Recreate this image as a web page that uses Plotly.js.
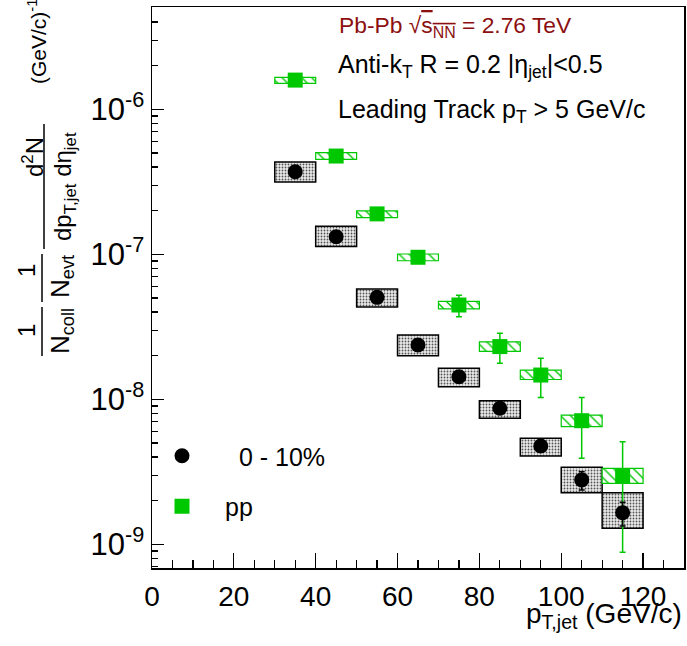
<!DOCTYPE html>
<html><head><meta charset="utf-8">
<script src="https://cdn.plot.ly/plotly-3.0.1.min.js"></script>
<style>body{margin:0;padding:0;background:#fff} #chart{width:687px;height:646px}</style>
</head><body><div id="chart"></div>
<script>
// ---- data ----
var binCenters = [35, 45, 55, 65, 75, 85, 95, 105, 115];
var binWidth = 10;

var ppY      = [1.59e-6, 4.76e-7, 1.90e-7, 9.54e-8, 4.47e-8, 2.31e-8, 1.47e-8, 7.12e-9, 2.97e-9];
var ppSysLo  = [1.51e-6, 4.52e-7, 1.79e-7, 9.03e-8, 4.20e-8, 2.14e-8, 1.37e-8, 6.47e-9, 2.63e-9];
var ppSysHi  = [1.66e-6, 5.02e-7, 1.99e-7, 1.005e-7, 4.74e-8, 2.49e-8, 1.59e-8, 7.79e-9, 3.34e-9];
var ppStatLo = [1.59e-6, 4.76e-7, 1.90e-7, 9.54e-8, 3.71e-8, 1.77e-8, 1.03e-8, 3.92e-9, 8.8e-10];
var ppStatHi = [1.59e-6, 4.76e-7, 1.90e-7, 9.54e-8, 5.21e-8, 2.85e-8, 1.92e-8, 1.03e-8, 5.10e-9];

var pbY      = [3.71e-7, 1.32e-7, 5.05e-8, 2.37e-8, 1.43e-8, 8.67e-9, 4.76e-9, 2.78e-9, 1.65e-9];
var pbSysLo  = [3.15e-7, 1.13e-7, 4.33e-8, 2.00e-8, 1.22e-8, 7.40e-9, 4.06e-9, 2.27e-9, 1.29e-9];
var pbSysHi  = [4.33e-7, 1.56e-7, 5.76e-8, 2.78e-8, 1.64e-8, 9.78e-9, 5.38e-9, 3.40e-9, 2.27e-9];
var pbStatLo = [3.71e-7, 1.32e-7, 5.05e-8, 2.37e-8, 1.43e-8, 8.67e-9, 4.76e-9, 2.37e-9, 1.34e-9];
var pbStatHi = [3.71e-7, 1.32e-7, 5.05e-8, 2.37e-8, 1.43e-8, 8.67e-9, 4.76e-9, 3.17e-9, 1.95e-9];

var seriesNames = ['0 - 10%', 'pp'];
var yTickVals = [1e-9, 1e-8, 1e-7, 1e-6];
var yTickText = ['10<sup>-9</sup>', '10<sup>-8</sup>', '10<sup>-7</sup>', '10<sup>-6</sup>'];
var xTickVals = [0, 20, 40, 60, 80, 100, 120];

// ---- layout geometry ----
var W = 687, H = 646, ML = 152, MR = 3, MT = 7, MB = 78;
function px(x) { return (x - ML) / (W - ML - MR); }
function py(y) { return (H - MB - y) / (H - MT - MB); }

var GREEN = '#00c800';
var FONT = 'Liberation Sans, Arial, Helvetica, sans-serif';

function diff(a, b) { return a.map(function (v, i) { return v - b[i]; }); }

var traces = [
  { // PbPb systematic boxes
    type: 'bar', x: binCenters, base: pbSysLo, y: diff(pbSysHi, pbSysLo),
    width: binCenters.map(function () { return binWidth; }),
    marker: { color: '#d0d0d0', line: { color: 'black', width: 1.5 },
      pattern: { shape: '.', fgcolor: '#555', bgcolor: '#ebebeb', size: 3, solidity: 0.3, fillmode: 'replace' } },
    showlegend: false, hoverinfo: 'skip'
  },
  { // pp systematic boxes
    type: 'bar', x: binCenters, base: ppSysLo, y: diff(ppSysHi, ppSysLo),
    width: binCenters.map(function () { return binWidth; }),
    marker: { color: 'white', line: { color: GREEN, width: 1.2 },
      pattern: { shape: '\\', fgcolor: GREEN, bgcolor: 'white', size: 7, solidity: 0.2, fillmode: 'replace' } },
    showlegend: false, hoverinfo: 'skip'
  },
  { // pp points
    type: 'scatter', mode: 'markers', name: seriesNames[1], legendgroup: 'b', legendrank: 2,
    x: binCenters, y: ppY,
    marker: { symbol: 'square', size: 15, color: GREEN },
    error_y: { type: 'data', symmetric: false, array: diff(ppStatHi, ppY), arrayminus: diff(ppY, ppStatLo),
      color: GREEN, thickness: 1.5, width: 3 }
  },
  { // PbPb points
    type: 'scatter', mode: 'markers', name: '\u00a0\u00a0' + seriesNames[0], legendgroup: 'a', legendrank: 1,
    x: binCenters, y: pbY,
    marker: { symbol: 'circle', size: 15, color: 'black' },
    error_y: { type: 'data', symmetric: false, array: diff(pbStatHi, pbY), arrayminus: diff(pbY, pbStatLo),
      color: 'black', thickness: 1.5, width: 3 }
  }
];

var minorY = [];
for (var e = -10; e <= -5; e++) for (var m = 2; m <= 9; m++) minorY.push(m * Math.pow(10, e));

function rot(text, x, y, size) {
  return { text: text, xref: 'paper', yref: 'paper', x: px(x), y: py(y), xanchor: 'center', yanchor: 'middle',
    textangle: -90, showarrow: false, font: { family: FONT, size: size, color: 'black' } };
}
function txt(text, x, y, size, color) {
  return { text: text, xref: 'paper', yref: 'paper', x: px(x), y: py(y), xanchor: 'left', yanchor: 'middle',
    showarrow: false, font: { family: FONT, size: size, color: color || 'black' } };
}
function vline(x, y0, y1) {
  return { type: 'line', xref: 'paper', yref: 'paper', x0: px(x), x1: px(x), y0: py(y0), y1: py(y1),
    line: { color: 'black', width: 1.5 } };
}

var layout = {
  width: W, height: H,
  margin: { l: ML, r: MR, t: MT, b: MB, pad: 0 },
  paper_bgcolor: 'white', plot_bgcolor: 'white',
  font: { family: FONT, color: 'black' },
  barmode: 'overlay', bargap: 0,
  xaxis: {
    range: [0, 130], tickmode: 'array', tickvals: xTickVals, ticks: 'inside', ticklen: 15, tickwidth: 1.2,
    tickcolor: 'black', showline: true, linecolor: 'black', linewidth: 1.5, mirror: true,
    showgrid: false, zeroline: false, tickfont: { family: FONT, size: 28 }, ticklabelstandoff: 3,
    minor: { dtick: 5, ticks: 'inside', ticklen: 8, tickwidth: 1.2, tickcolor: 'black', showgrid: false }
  },
  yaxis: {
    type: 'log', range: [-9.1634, -5.2945], tickmode: 'array', tickvals: yTickVals, ticktext: yTickText,
    ticks: 'inside', ticklen: 12, tickwidth: 1.2, tickcolor: 'black',
    showline: true, linecolor: 'black', linewidth: 1.5, mirror: true,
    showgrid: false, zeroline: false, tickfont: { family: FONT, size: 31 },
    minor: { tickmode: 'array', tickvals: minorY, ticks: 'inside', ticklen: 6, tickwidth: 1.2, tickcolor: 'black', showgrid: false }
  },
  showlegend: true,
  legend: {
    x: px(139), y: py(433), xanchor: 'left', yanchor: 'top', bgcolor: 'rgba(0,0,0,0)',
    traceorder: 'grouped', tracegroupgap: 15, itemwidth: 76,
    font: { family: FONT, size: 25, color: 'black' }
  },
  annotations: [
    txt('Pb-Pb \u221a<span style="text-decoration:overline">s<sub>NN</sub></span> = 2.76 TeV', 337, 27, 22.8, '#8c0f0f'),
    txt('Anti-k<sub>T</sub> R = 0.2 |\u03b7<sub>jet</sub>|&lt;0.5', 336, 66, 25),
    txt('Leading Track p<sub>T</sub> &gt; 5 GeV/c', 336, 111, 25),
    { text: 'p<sub>T,jet</sub> (GeV/c)', xref: 'paper', yref: 'paper', x: 1, y: py(616), xanchor: 'right',
      yanchor: 'middle', showarrow: false, font: { family: FONT, size: 28, color: 'black' } },
    rot('(GeV/c)<sup>-1</sup>', 37, 42, 21),
    rot('d<sup>2</sup>N', 33, 157, 24),
    rot('dp<sub>T,jet</sub> d\u03b7<sub>jet</sub>', 65, 187, 24),
    rot('1', 26, 271, 24),
    rot('N<sub>evt</sub>', 61, 277, 26),
    rot('1', 26, 331, 24),
    rot('N<sub>coll</sub>', 61, 331, 26)
  ],
  shapes: [ vline(44, 124, 249), vline(42, 254, 302), vline(42, 307, 356) ]
};

Plotly.newPlot('chart', traces, layout, { displayModeBar: false, staticPlot: true });
</script></body></html>
